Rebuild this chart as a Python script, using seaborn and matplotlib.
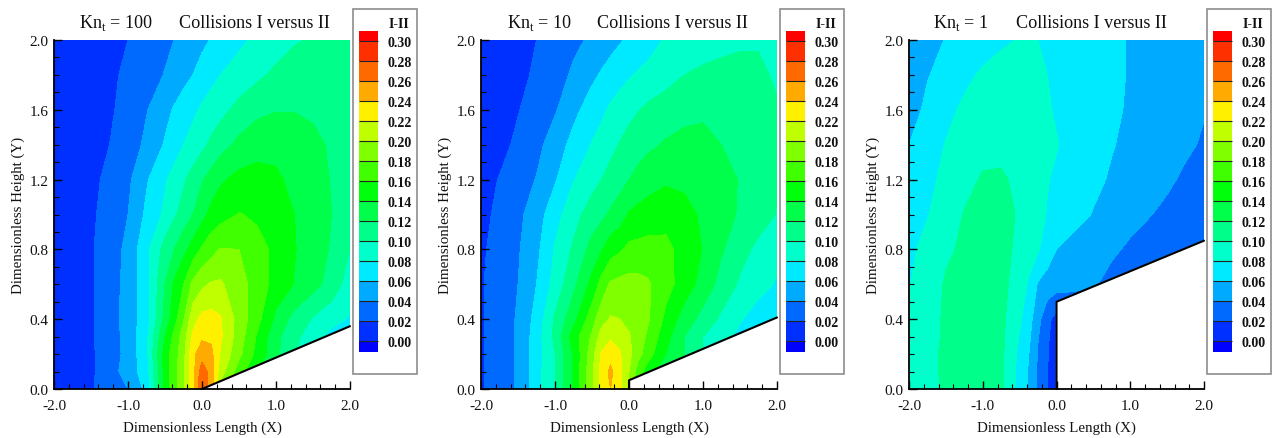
import numpy as np
import matplotlib
matplotlib.use("Agg")
import matplotlib.pyplot as plt
from matplotlib.patches import Rectangle
from matplotlib.ticker import MultipleLocator, FormatStrFormatter
import seaborn as sns

sns.set_theme(style="white")
plt.rcParams['font.family'] = ['Liberation Serif', 'DejaVu Serif']
plt.rcParams['mathtext.fontset'] = 'custom'
plt.rcParams['mathtext.rm'] = 'Liberation Serif'
plt.rcParams['axes.unicode_minus'] = False

W, H = 1273, 439

# Sample grid of the collision fields
x_grid = [-2, -1.75, -1.5, -1.25, -1, -.75, -.5, -.375, -.25, -.125, 0, .125, .25, .5, .75, 1, 1.25, 1.5, 1.75, 2]
y_grid = [0, .1, .2, .3, .4, .6, .8, 1, 1.2, 1.4, 1.6, 1.8, 2]

# Values, one row per y_grid entry
kn100_values = [
    [.009, .013, .018, .03, .04, .065, .148, .17, .195, .23, .28, .25, .19, .15, .12, .095, .075, .06, .048, .036],
    [.009, .013, .017, .03, .05, .07, .148, .172, .198, .232, .272, .25, .21, .17, .14, .12, .095, .07, .05, .036],
    [.009, .013, .017, .03, .046, .075, .15, .17, .193, .235, .25, .245, .218, .185, .153, .125, .10, .08, .06, .045],
    [.009, .013, .018, .03, .047, .075, .14, .166, .19, .224, .237, .236, .223, .19, .157, .125, .105, .09, .073, .065],
    [.009, .013, .018, .029, .05, .07, .127, .152, .178, .212, .226, .227, .222, .192, .166, .135, .113, .098, .087, .078],
    [.009, .013, .018, .03, .047, .072, .12, .143, .16, .185, .196, .202, .203, .187, .172, .152, .139, .127, .112, .09],
    [.009, .013, .018, .03, .045, .075, .108, .12, .134, .148, .163, .173, .181, .18, .166, .156, .141, .13, .118, .10],
    [.009, .012, .017, .027, .04, .064, .084, .097, .108, .12, .133, .146, .152, .161, .157, .148, .14, .13, .12, .112],
    [.008, .012, .016, .024, .036, .058, .078, .087, .097, .108, .118, .128, .137, .146, .147, .143, .135, .128, .119, .11],
    [.007, .011, .015, .02, .03, .044, .062, .071, .08, .087, .095, .104, .112, .125, .133, .135, .132, .126, .117, .108],
    [.006, .01, .014, .018, .025, .039, .054, .062, .069, .076, .083, .089, .094, .106, .115, .119, .119, .116, .112, .106],
    [.005, .009, .013, .017, .023, .031, .041, .047, .054, .06, .067, .074, .08, .088, .096, .104, .11, .114, .113, .107],
    [.004, .008, .012, .016, .02, .028, .036, .04, .045, .05, .056, .061, .066, .076, .084, .091, .098, .102, .105, .102],
]
kn10_values = [
    [.018, .03, .042, .072, .10, .142, .195, .225, .24, .224, .2, .165, .14, .11, .09, .07, .055, .045, .035, .025],
    [.018, .03, .042, .072, .10, .142, .195, .226, .245, .226, .2, .17, .15, .125, .105, .085, .07, .055, .042, .03],
    [.018, .03, .042, .07, .10, .142, .192, .222, .232, .222, .205, .187, .17, .14, .12, .10, .083, .07, .055, .04],
    [.018, .03, .042, .07, .105, .15, .183, .208, .217, .212, .202, .19, .177, .147, .12, .10, .088, .074, .06, .05],
    [.018, .03, .042, .067, .103, .133, .172, .192, .202, .2, .195, .189, .183, .155, .13, .113, .096, .082, .07, .06],
    [.018, .03, .04, .06, .087, .115, .146, .167, .183, .186, .187, .186, .183, .167, .151, .132, .113, .097, .087, .078],
    [.017, .027, .038, .055, .082, .103, .127, .138, .151, .157, .165, .166, .167, .165, .153, .139, .122, .107, .095, .086],
    [.015, .024, .035, .051, .072, .093, .109, .115, .123, .13, .142, .146, .149, .153, .146, .137, .127, .118, .109, .099],
    [.012, .021, .03, .041, .058, .079, .093, .10, .107, .113, .12, .126, .131, .137, .136, .132, .126, .119, .11, .102],
    [.009, .014, .024, .034, .05, .066, .081, .087, .094, .101, .108, .112, .116, .122, .125, .125, .12, .117, .11, .104],
    [.008, .012, .019, .029, .038, .055, .069, .076, .083, .089, .094, .099, .104, .11, .115, .117, .117, .114, .109, .102],
    [.007, .011, .015, .023, .032, .043, .056, .062, .068, .073, .078, .082, .085, .092, .10, .104, .107, .108, .104, .097],
    [.006, .009, .013, .02, .028, .036, .043, .048, .053, .058, .063, .068, .072, .082, .086, .09, .093, .096, .098, .098],
]
kn1_values = [
    [.082, .093, .103, .107, .109, .103, .072, .057, .037, .021, 0, .02, .02, .02, .02, .02, .02, .02, .02, .02],
    [.081, .094, .104, .108, .11, .104, .073, .058, .037, .021, .001, .02, .02, .02, .02, .02, .02, .02, .02, .02],
    [.081, .094, .104, .108, .11, .104, .075, .06, .038, .022, .002, .02, .02, .02, .02, .02, .02, .02, .02, .02],
    [.08, .093, .103, .108, .11, .105, .079, .064, .041, .024, .005, .02, .02, .02, .02, .02, .02, .02, .02, .02],
    [.079, .092, .103, .108, .11, .105, .083, .068, .046, .026, .012, .02, .02, .02, .02, .02, .02, .02, .02, .02],
    [.079, .09, .102, .108, .11, .105, .092, .077, .058, .052, .048, .046, .045, .042, .034, .028, .024, .02, .015, .01],
    [.075, .087, .097, .103, .108, .104, .097, .09, .082, .07, .06, .056, .053, .048, .043, .037, .032, .027, .023, .018],
    [.07, .079, .09, .101, .108, .106, .098, .092, .085, .079, .074, .07, .066, .059, .052, .046, .041, .036, .03, .025],
    [.066, .075, .085, .094, .102, .103, .095, .09, .086, .081, .077, .073, .07, .064, .058, .053, .048, .043, .037, .033],
    [.06, .07, .081, .088, .094, .094, .092, .09, .087, .084, .081, .077, .073, .067, .061, .056, .051, .047, .043, .038],
    [.052, .064, .074, .084, .09, .093, .09, .088, .086, .082, .078, .075, .073, .068, .063, .058, .053, .049, .045, .041],
    [.049, .059, .066, .075, .083, .087, .089, .087, .084, .08, .077, .074, .072, .068, .063, .059, .055, .052, .048, .044],
    [.047, .052, .061, .066, .071, .077, .081, .081, .08, .077, .074, .072, .071, .067, .063, .059, .055, .052, .048, .045],
]

# Outline of the solid body in each panel
kn100_body_x, kn100_body_y = [0, 2], [0, .36]
kn10_body_x, kn10_body_y = [0, 0, 2], [0, .05, .41]
kn1_body_x, kn1_body_y = [0, 0, 2], [0, .5, .85]

levels = [0, .02, .04, .06, .08, .10, .12, .14, .16, .18, .20, .22, .24, .26, .28, .30]
band_colors = ['#0000ff', '#0030ff', '#006aff', '#00aaff', '#00eaff', '#00ffca', '#00ff8a', '#00ff4a',
               '#00ff0a', '#40ff00', '#80ff00', '#bfff00', '#fff000', '#ffaa00', '#ff6a00', '#ff3000', '#ff0000']

panels = [
    dict(left=54, right=350, kn="100", kn_px=79, coll_px=179, z=kn100_values, bx=kn100_body_x, by=kn100_body_y),
    dict(left=481, right=777, kn="10", kn_px=507, coll_px=597, z=kn10_values, bx=kn10_body_x, by=kn10_body_y),
    dict(left=909, right=1204, kn="1", kn_px=933, coll_px=1016, z=kn1_values, bx=kn1_body_x, by=kn1_body_y),
]

AX_TOP, AX_BOTTOM = 41, 390


def px_box(x0, y0, x1, y1):
    # pixel box (y down) to figure fractions
    return [x0 / W, 1 - y1 / H, (x1 - x0) / W, (y1 - y0) / H]


fig = plt.figure(figsize=(W / 100, H / 100), dpi=100, facecolor='white')
palette = sns.color_palette(band_colors)

for p in panels:
    ax = fig.add_axes(px_box(p['left'], AX_TOP, p['right'], AX_BOTTOM))
    ax.set_axisbelow(False)
    cf = ax.contourf(x_grid, y_grid, np.array(p['z']), levels=levels, colors=palette, extend='both', zorder=1)

    # white body with black wall
    bx = p['bx'] + [2]
    by = p['by'] + [0]
    ax.fill(bx, by, color='white', zorder=2)
    ax.plot(p['bx'], p['by'], color='black', lw=1.5, zorder=2.2, clip_on=False)

    ax.set_xlim(-2, 2)
    ax.set_ylim(0, 2)
    ax.xaxis.set_major_locator(MultipleLocator(1))
    ax.xaxis.set_minor_locator(MultipleLocator(.2))
    ax.yaxis.set_major_locator(MultipleLocator(.4))
    ax.yaxis.set_minor_locator(MultipleLocator(.1))
    ax.xaxis.set_major_formatter(FormatStrFormatter('%.1f'))
    ax.yaxis.set_major_formatter(FormatStrFormatter('%.1f'))
    ax.tick_params(which='major', direction='in', length=6, width=1, color='black', labelsize=11,
                   labelcolor='#111111', bottom=True, left=True)
    ax.tick_params(which='minor', direction='in', length=3.5, width=.8, color='black', bottom=True, left=True)
    for side in ['top', 'right']:
        ax.spines[side].set_visible(False)
    for side in ['left', 'bottom']:
        ax.spines[side].set_linewidth(1.3)
        ax.spines[side].set_color('black')
    ax.tick_params(axis='x', pad=7)
    ax.tick_params(axis='y', pad=4)
    ax.set_xlabel("Dimensionless Length (X)", fontsize=10.8, color='#111111', labelpad=6)
    ax.set_ylabel("Dimensionless Height (Y)", fontsize=10.8, color='#111111', labelpad=3)

    # title pieces
    fig.text(p['kn_px'] / W, 1 - 28 / H, r"Kn$_{\mathrm{t}}$ = " + p['kn'], fontsize=13.1, color='#111111')
    fig.text(p['coll_px'] / W, 1 - 28 / H, "Collisions I versus II", fontsize=13.1, color='#111111')

    # legend box
    r = p['right']
    fig.add_artist(Rectangle(((r + 3) / W, 1 - 375 / H), 64 / W, 365 / H, transform=fig.transFigure,
                             facecolor='white', edgecolor='#8c8c8c', lw=1.2, zorder=-1))
    cax = fig.add_axes(px_box(r + 9, 32, r + 28, 353))
    cb = fig.colorbar(cf, cax=cax, extend='both', extendrect=True, extendfrac=(11 / 300, 10 / 300),
                      drawedges=True, ticks=levels)
    cb.dividers.set_color('#222222')
    cb.dividers.set_linewidth(.8)
    cb.outline.set_visible(False)
    cb.ax.tick_params(length=0, pad=7, labelsize=10)
    cb.ax.yaxis.set_major_formatter(FormatStrFormatter('%.2f'))
    for t in cb.ax.get_yticklabels():
        t.set_fontweight('bold')
        t.set_color('#111111')
    fig.text((r + 49) / W, 1 - 25 / H, "I-II", fontsize=10, fontweight='bold', color='#111111', ha='center', va='center')

fig.savefig("out.png", dpi=100)
